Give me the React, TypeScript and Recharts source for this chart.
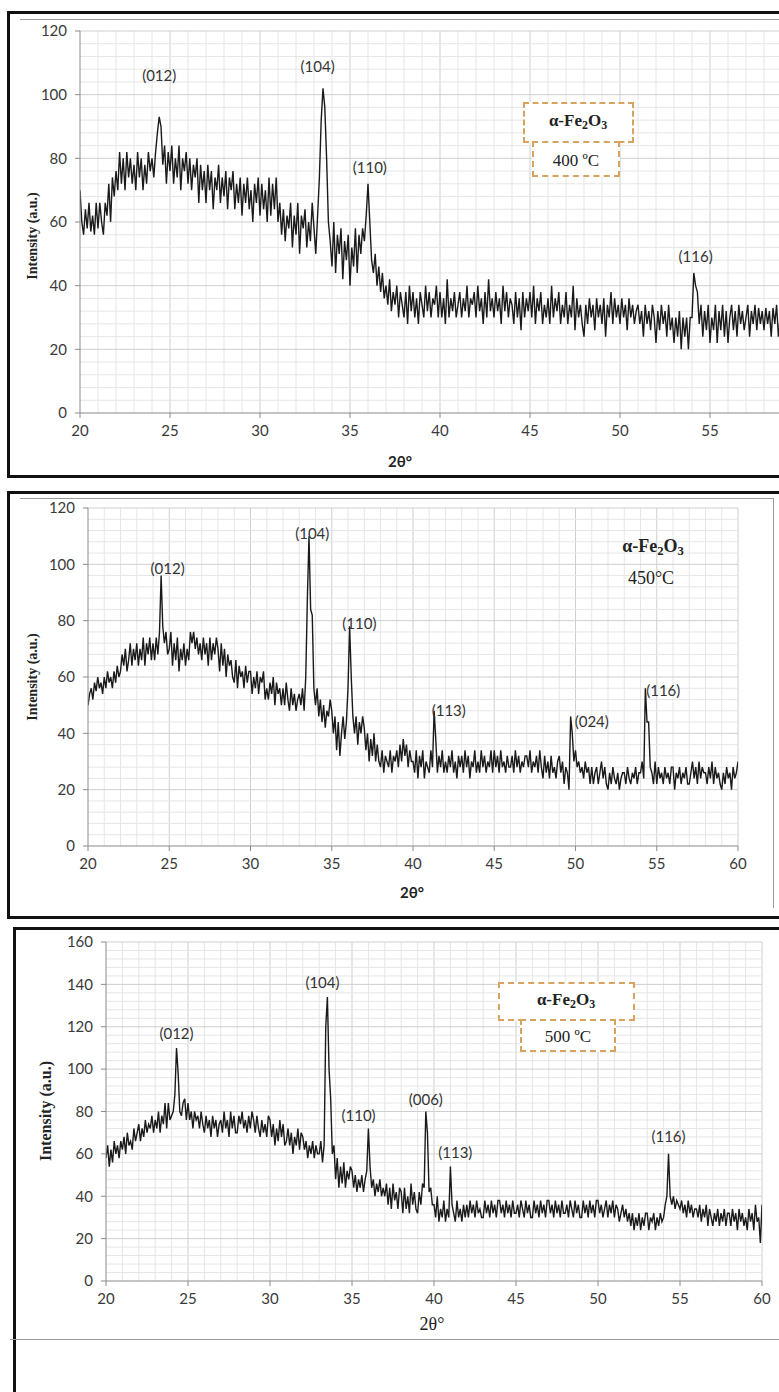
import React from "react";
import { LineChart, Line, XAxis, YAxis, ReferenceLine, ReferenceDot } from "recharts";

// scan grid, 20°..60° at 0.1° steps
const TWO_THETA = Array.from({ length: 401 }, (_, i) => +(20 + i * 0.1).toFixed(1));

// one row per degree (x.0 .. x.9)
const I_400 = [
  70, 60, 56, 64, 58, 66, 57, 62, 56, 66,
  58, 66, 60, 56, 66, 62, 72, 60, 74, 68,
  76, 70, 82, 72, 80, 70, 82, 74, 80, 72,
  78, 70, 82, 74, 80, 70, 78, 72, 82, 76,
  80, 74, 82, 88, 93, 90, 78, 84, 72, 82,
  76, 84, 72, 80, 74, 84, 70, 80, 76, 82,
  72, 80, 70, 78, 74, 80, 66, 78, 70, 76,
  66, 78, 70, 76, 64, 74, 70, 78, 66, 74,
  68, 76, 64, 74, 70, 76, 64, 72, 66, 74,
  62, 72, 66, 74, 64, 70, 60, 72, 66, 74,
  62, 72, 64, 70, 60, 74, 62, 72, 64, 74,
  60, 66, 56, 64, 54, 62, 58, 66, 52, 62,
  56, 66, 50, 62, 58, 64, 52, 60, 54, 66,
  58, 50, 62, 74, 92, 102, 96, 80, 60, 54,
  46, 60, 44, 56, 50, 58, 42, 54, 48, 56,
  40, 52, 46, 58, 44, 56, 50, 58, 54, 62,
  72, 60, 48, 44, 50, 40, 46, 38, 44, 36,
  40, 34, 42, 32, 38, 34, 40, 30, 38, 34,
  30, 38, 28, 40, 32, 38, 30, 36, 28, 38,
  34, 30, 40, 32, 38, 30, 36, 34, 40, 30,
  38, 30, 36, 28, 42, 30, 36, 32, 38, 30,
  34, 38, 30, 36, 32, 40, 30, 36, 34, 38,
  30, 40, 32, 36, 28, 38, 30, 42, 32, 36,
  30, 38, 32, 36, 28, 40, 32, 38, 30, 36,
  34, 28, 38, 30, 36, 26, 38, 30, 36, 32,
  38, 30, 40, 28, 36, 32, 38, 28, 34, 30,
  36, 28, 40, 30, 36, 32, 38, 28, 34, 30,
  38, 28, 34, 30, 40, 26, 36, 30, 34, 28,
  24, 34, 28, 36, 30, 34, 26, 36, 30, 34,
  28, 36, 24, 34, 30, 38, 28, 36, 30, 34,
  28, 36, 30, 34, 26, 36, 30, 34, 28, 32,
  34, 28, 32, 24, 34, 28, 32, 26, 34, 30,
  22, 32, 26, 34, 28, 32, 24, 34, 26, 30,
  22, 30, 24, 32, 20, 30, 24, 30, 20, 30,
  30, 44, 40, 38, 28, 34, 24, 32, 26, 34,
  22, 30, 26, 34, 22, 32, 26, 34, 24, 32,
  22, 30, 34, 26, 32, 24, 34, 28, 32, 26,
  30, 34, 24, 32, 28, 34, 26, 33, 28, 32,
  26, 33, 28, 32, 24, 33, 28, 34, 24, 30,
  26, 32, 22, 30, 28, 32, 24, 30, 26, 28,
  28,
];

const I_450 = [
  50, 54, 56, 52, 58, 55, 60, 56, 58, 54,
  60, 56, 62, 58, 60, 56, 62, 58, 64, 60,
  62, 68, 64, 70, 62, 66, 72, 64, 70, 66,
  72, 64, 70, 66, 74, 64, 72, 68, 74, 66,
  72, 66, 74, 68, 76, 96, 78, 72, 76, 68,
  70, 76, 64, 72, 66, 74, 62, 70, 66, 72,
  64, 70, 66, 76, 72, 76, 70, 74, 68, 72,
  66, 74, 68, 72, 64, 74, 66, 72, 68, 74,
  70, 62, 72, 64, 70, 60, 68, 64, 66, 60,
  58, 66, 56, 64, 60, 62, 56, 64, 58, 62,
  62, 54, 60, 56, 62, 54, 60, 58, 62, 52,
  56, 52, 58, 54, 60, 50, 58, 54, 56, 50,
  56, 50, 58, 52, 48, 56, 50, 54, 48, 52,
  54, 50, 56, 48, 60, 88, 110, 84, 82, 56,
  50, 56, 46, 52, 44, 50, 42, 48, 46, 52,
  48, 40, 46, 34, 44, 32, 40, 46, 38, 44,
  56, 78, 60, 46, 40, 46, 36, 44, 40, 46,
  42, 34, 40, 30, 38, 32, 40, 30, 36, 30,
  28, 34, 26, 32, 30, 28, 34, 26, 32, 30,
  34, 28, 36, 30, 38, 32, 36, 28, 34, 30,
  30, 26, 34, 24, 32, 28, 34, 24, 30, 28,
  26, 34, 28, 48, 38, 26, 32, 28, 34, 26,
  30, 26, 32, 28, 34, 26, 30, 24, 32, 28,
  32, 26, 34, 28, 32, 24, 30, 28, 34, 26,
  30, 26, 34, 28, 32, 26, 30, 28, 34, 26,
  34, 28, 32, 26, 34, 28, 30, 26, 32, 28,
  28, 32, 26, 34, 28, 32, 26, 30, 28, 32,
  32, 28, 34, 26, 30, 28, 32, 26, 34, 28,
  24, 32, 26, 30, 24, 32, 26, 28, 24, 30,
  32, 26, 30, 22, 28, 26, 20, 46, 40, 30,
  34, 28, 30, 26, 28, 24, 30, 26, 28, 22,
  28, 22, 26, 28, 22, 26, 30, 24, 28, 22,
  20, 26, 22, 28, 24, 22, 26, 20, 24, 26,
  26, 22, 28, 24, 22, 26, 24, 28, 22, 26,
  26, 30, 24, 56, 44, 44, 28, 26, 22, 30,
  22, 28, 24, 26, 22, 28, 24, 26, 22, 28,
  28, 20, 26, 24, 28, 22, 26, 24, 28, 22,
  22, 26, 30, 24, 28, 22, 30, 24, 28, 26,
  26, 22, 28, 24, 30, 22, 28, 24, 26, 22,
  20, 26, 22, 28, 24, 26, 20, 28, 24, 26,
  30,
];

const I_500 = [
  58, 64, 54, 62, 56, 66, 60, 64, 58, 66,
  62, 68, 60, 70, 64, 66, 62, 72, 66, 70,
  74, 66, 72, 68, 76, 70, 74, 72, 78, 70,
  76, 72, 80, 70, 78, 74, 84, 72, 84, 76,
  78, 80, 88, 110, 98, 80, 78, 84, 86, 76,
  84, 76, 80, 72, 80, 76, 78, 72, 80, 74,
  70, 78, 72, 76, 68, 78, 72, 76, 68, 74,
  76, 70, 80, 72, 76, 68, 80, 72, 78, 70,
  70, 78, 74, 80, 72, 76, 70, 78, 72, 80,
  76, 70, 78, 72, 68, 76, 70, 74, 68, 78,
  76, 68, 74, 64, 72, 66, 76, 68, 74, 64,
  66, 72, 64, 70, 60, 68, 64, 72, 62, 70,
  68, 62, 66, 58, 64, 60, 66, 58, 64, 60,
  60, 66, 56, 64, 120, 134, 100, 86, 60, 64,
  48, 58, 44, 54, 46, 56, 44, 52, 48, 54,
  52, 44, 50, 42, 48, 44, 50, 42, 48, 52,
  72, 54, 44, 48, 40, 46, 42, 48, 40, 44,
  40, 46, 36, 44, 34, 46, 38, 42, 34, 44,
  42, 32, 44, 34, 40, 32, 46, 36, 42, 34,
  32, 42, 36, 46, 44, 80, 70, 42, 44, 36,
  36, 30, 40, 28, 34, 30, 38, 28, 34, 30,
  54, 36, 32, 28, 38, 30, 34, 28, 36, 30,
  36, 30, 38, 32, 36, 30, 38, 32, 34, 30,
  30, 38, 32, 36, 30, 38, 32, 36, 30, 38,
  38, 32, 36, 30, 38, 32, 36, 30, 38, 32,
  32, 36, 30, 38, 34, 30, 38, 32, 36, 30,
  30, 38, 32, 36, 30, 38, 32, 36, 30, 38,
  38, 32, 36, 30, 38, 32, 36, 30, 38, 32,
  32, 36, 30, 38, 34, 30, 38, 32, 36, 30,
  30, 38, 32, 36, 30, 38, 32, 36, 30, 38,
  38, 32, 36, 30, 34, 38, 30, 36, 32, 38,
  30, 36, 34, 28, 32, 36, 30, 34, 28, 32,
  26, 32, 24, 30, 26, 32, 24, 30, 26, 32,
  32, 24, 30, 28, 32, 24, 30, 26, 32, 28,
  30, 36, 40, 60, 40, 36, 40, 34, 38, 36,
  34, 38, 32, 36, 30, 38, 32, 36, 30, 34,
  34, 30, 36, 28, 34, 30, 36, 26, 34, 30,
  26, 32, 28, 34, 26, 32, 28, 34, 26, 32,
  32, 26, 34, 28, 32, 24, 34, 28, 32, 26,
  30, 24, 34, 28, 32, 24, 36, 28, 30, 18,
  36,
];

const X_TICKS = [20, 25, 30, 35, 40, 45, 50, 55, 60];
const X_TICKS_CROPPED = [20, 25, 30, 35, 40, 45, 50, 55];
const Y_TICKS_120 = [0, 20, 40, 60, 80, 100, 120];
const Y_TICKS_160 = [0, 20, 40, 60, 80, 100, 120, 140, 160];

const PEAKS_400 = [
  { x: 24.4, y: 106, label: "(012)" },
  { x: 33.2, y: 108.7, label: "(104)" },
  { x: 36.1, y: 77, label: "(110)" },
  { x: 54.2, y: 49, label: "(116)" },
];
const PEAKS_450 = [
  { x: 24.9, y: 98.6, label: "(012)" },
  { x: 33.8, y: 111, label: "(104)" },
  { x: 36.7, y: 79, label: "(110)" },
  { x: 42.2, y: 48, label: "(113)" },
  { x: 51, y: 44, label: "(024)" },
  { x: 55.4, y: 55, label: "(116)" },
];
const PEAKS_500 = [
  { x: 24.3, y: 116.6, label: "(012)" },
  { x: 33.2, y: 141, label: "(104)" },
  { x: 35.4, y: 78, label: "(110)" },
  { x: 39.5, y: 85.4, label: "(006)" },
  { x: 41.3, y: 60.4, label: "(113)" },
  { x: 54.3, y: 68, label: "(116)" },
];

const rows = (ys: number[]) => TWO_THETA.map((x, i) => ({ x, y: ys[i] }));

const SANS = "Lato, 'Open Sans', sans-serif";
const SERIF = "'Liberation Serif', 'DejaVu Serif', serif";
const tickStyle = { fill: "#3a3a3a", fontSize: 15, fontFamily: SANS };

type PanelProps = {
  ys: number[];
  peaks: { x: number; y: number; label: string }[];
  yMax: number;
  yTicks: number[];
  xTicks: number[];
  width: number;
  height: number;
  margin: { top: number; right: number; bottom: number; left: number };
};

function XrdPanel({ ys, peaks, yMax, yTicks, xTicks, width, height, margin }: PanelProps) {
  const vGrid: number[] = [];
  for (let v = 21; v <= 60; v++) vGrid.push(v);
  const hGrid: number[] = [];
  for (let v = 4; v <= yMax; v += 4) hGrid.push(v);
  return (
    <LineChart width={width} height={height} data={rows(ys)} margin={margin}>
      {vGrid.map((v) => (
        <ReferenceLine key={"v" + v} x={v} stroke={v % 5 === 0 ? "#cfcfcf" : "#e6e6e6"} strokeWidth={1} />
      ))}
      {hGrid.map((v) => (
        <ReferenceLine key={"h" + v} y={v} stroke={v % 20 === 0 ? "#cfcfcf" : "#e6e6e6"} strokeWidth={1} />
      ))}
      <XAxis
        type="number"
        dataKey="x"
        domain={[20, 60]}
        ticks={xTicks}
        height={30}
        stroke="#8a8a8a"
        tickSize={5}
        tickMargin={7}
        tick={tickStyle}
        allowDataOverflow
      />
      <YAxis
        type="number"
        domain={[0, yMax]}
        ticks={yTicks}
        width={50}
        stroke="#8a8a8a"
        tickSize={5}
        tickMargin={8}
        tick={tickStyle}
      />
      <Line
        type="linear"
        dataKey="y"
        stroke="#1a1a1a"
        strokeWidth={1.4}
        dot={false}
        isAnimationActive={false}
      />
      {peaks.map((p) => (
        <ReferenceDot
          key={p.label + p.x}
          x={p.x}
          y={p.y}
          r={0}
          stroke="none"
          fill="none"
          label={{ value: p.label, position: "center", fill: "#333", fontSize: 15, fontFamily: SANS }}
        />
      ))}
    </LineChart>
  );
}

const abs = (left: number, top: number, width: number, height: number, extra: React.CSSProperties = {}) => (
  <div style={{ position: "absolute", left, top, width, height, ...extra }} />
);

function Txt({ x, y, children, style }: { x: number; y: number; children: React.ReactNode; style?: React.CSSProperties }) {
  return (
    <div
      style={{
        position: "absolute",
        left: x,
        top: y,
        transform: "translate(-50%, -50%)",
        whiteSpace: "nowrap",
        lineHeight: 1,
        ...style,
      }}
    >
      {children}
    </div>
  );
}

const Fe2O3 = () => (
  <span>
    α-Fe<sub style={{ fontSize: "0.7em", verticalAlign: "-0.25em" }}>2</sub>O
    <sub style={{ fontSize: "0.7em", verticalAlign: "-0.25em" }}>3</sub>
  </span>
);

const dashed = "2px dashed #d9a35e";
const yTitle: React.CSSProperties = { fontFamily: SERIF, fontWeight: 700, fontSize: 14, color: "#222" };

export default function App() {
  return (
    <div style={{ position: "absolute", left: 0, top: 0, width: 779, height: 1392, background: "#fff", overflow: "hidden" }}>
      {/* 400 °C */}
      <div style={{ position: "absolute", left: 0, top: 0, width: 779, height: 480, overflow: "hidden" }}>
        <XrdPanel ys={I_400} peaks={PEAKS_400} yMax={120} yTicks={Y_TICKS_120} xTicks={X_TICKS_CROPPED}
          width={820} height={480} margin={{ top: 31, right: 20, bottom: 37, left: 30 }} />
      </div>
      {/* 450 °C */}
      <div style={{ position: "absolute", left: 0, top: 480, width: 779, height: 440 }}>
        <XrdPanel ys={I_450} peaks={PEAKS_450} yMax={120} yTicks={Y_TICKS_120} xTicks={X_TICKS}
          width={760} height={440} margin={{ top: 28, right: 22, bottom: 44, left: 38 }} />
      </div>
      {/* 500 °C */}
      <div style={{ position: "absolute", left: 0, top: 920, width: 779, height: 400 }}>
        <XrdPanel ys={I_500} peaks={PEAKS_500} yMax={160} yTicks={Y_TICKS_160} xTicks={X_TICKS}
          width={779} height={400} margin={{ top: 22, right: 17, bottom: 9, left: 56 }} />
      </div>

      {/* frames */}
      {abs(7, 11, 772, 3, { background: "#111" })}
      {abs(7, 11, 3, 467, { background: "#111" })}
      {abs(7, 475, 772, 3, { background: "#111" })}
      {abs(20, 19, 759, 1, { background: "#9a9a9a" })}

      {abs(7, 491, 772, 3, { background: "#111" })}
      {abs(7, 491, 3, 428, { background: "#111" })}
      {abs(7, 916, 772, 3, { background: "#111" })}
      {abs(20, 498, 753, 1, { background: "#9a9a9a" })}
      {abs(773, 498, 1, 410, { background: "#9a9a9a" })}

      {abs(13, 927, 766, 3, { background: "#111" })}
      {abs(13, 927, 3, 465, { background: "#111" })}
      {abs(10, 1339, 769, 1, { background: "#9a9a9a" })}

      {/* axis titles */}
      <Txt x={33} y={236} style={{ ...yTitle, transform: "translate(-50%, -50%) rotate(-90deg)" }}>Intensity (a.u.)</Txt>
      <Txt x={33} y={677} style={{ ...yTitle, transform: "translate(-50%, -50%) rotate(-90deg)" }}>Intensity (a.u.)</Txt>
      <Txt x={46} y={1111} style={{ ...yTitle, fontSize: 16, transform: "translate(-50%, -50%) rotate(-90deg)" }}>Intensity (a.u.)</Txt>
      <Txt x={400} y={461} style={{ fontFamily: SANS, fontWeight: 700, fontSize: 15, color: "#222" }}>2θ°</Txt>
      <Txt x={412} y={892} style={{ fontFamily: SANS, fontWeight: 700, fontSize: 15, color: "#222" }}>2θ°</Txt>
      <Txt x={432} y={1324} style={{ fontFamily: SERIF, fontSize: 18, color: "#222" }}>2θ°</Txt>

      {/* sample tags */}
      {abs(523, 102, 111, 41, { border: dashed, boxSizing: "border-box", background: "#fff" })}
      {abs(532, 141, 88, 36, { border: dashed, boxSizing: "border-box", background: "#fff" })}
      <Txt x={578} y={122} style={{ fontFamily: SERIF, fontWeight: 700, fontSize: 17, color: "#222" }}><Fe2O3 /></Txt>
      <Txt x={576} y={160} style={{ fontFamily: SERIF, fontSize: 17, color: "#222" }}>400 ºC</Txt>

      <Txt x={653} y={547} style={{ fontFamily: SERIF, fontWeight: 700, fontSize: 18, color: "#222" }}><Fe2O3 /></Txt>
      <Txt x={651} y={578} style={{ fontFamily: SERIF, fontSize: 18, color: "#222" }}>450°C</Txt>

      {abs(498, 982, 137, 39, { border: dashed, boxSizing: "border-box", background: "#fff" })}
      {abs(520, 1019, 96, 33, { border: dashed, boxSizing: "border-box", background: "#fff" })}
      <Txt x={566} y={1001} style={{ fontFamily: SERIF, fontWeight: 700, fontSize: 17, color: "#222" }}><Fe2O3 /></Txt>
      <Txt x={568} y={1036} style={{ fontFamily: SERIF, fontSize: 17, color: "#222" }}>500 ºC</Txt>
    </div>
  );
}
